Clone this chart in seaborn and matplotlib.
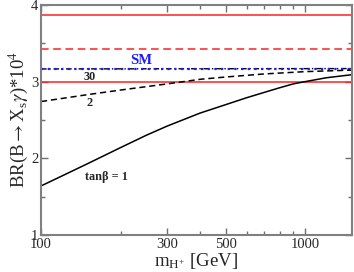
import numpy as np
import pandas as pd
import seaborn as sns
import matplotlib.pyplot as plt
from matplotlib.ticker import FixedLocator, NullFormatter

# charged Higgs mass [GeV]
mass_tb1 = [100, 120, 150, 200, 250, 300, 400, 500, 600, 700, 800, 900, 1000, 1200, 1500]
br_tb1 = [1.64, 1.77, 1.93, 2.14, 2.30, 2.42, 2.59, 2.70, 2.79, 2.86, 2.92, 2.97, 3.00, 3.05, 3.09]

mass_tb2 = [100, 150, 200, 300, 400, 500, 700, 1000, 1500]
br_tb2 = [2.74, 2.83, 2.89, 2.97, 3.03, 3.06, 3.10, 3.13, 3.15]

mass_tb30 = [100, 1500]
br_tb30 = [3.165, 3.17]

# SM value and experimental band
sm_value = 3.17
exp_central = 3.43
exp_upper = 3.87
exp_lower = 3.0

sns.set_style("ticks")
plt.rcParams["font.family"] = ["Liberation Serif", "DejaVu Serif"]
plt.rcParams["mathtext.fontset"] = "stix"

fig = plt.figure(figsize=(3.54, 2.72), dpi=100)
ax = fig.add_axes([0.116, 0.136, 0.878, 0.846])

df1 = pd.DataFrame({"m": mass_tb1, "br": br_tb1})
df2 = pd.DataFrame({"m": mass_tb2, "br": br_tb2})
df30 = pd.DataFrame({"m": mass_tb30, "br": br_tb30})

ax.axhline(exp_upper, color="#ff2020", lw=1.1)
ax.axhline(exp_central, color="#ff2020", lw=1.1, ls=(0, (5, 3)))
ax.axhline(exp_lower, color="#ff2020", lw=1.1)

sns.lineplot(data=df30, x="m", y="br", ax=ax, color="black", lw=1.0,
             linestyle=(0, (4, 2, 1, 2)))
ax.axhline(sm_value, color="#1a1aff", lw=1.6, ls=(0, (1, 2)))
sns.lineplot(data=df2, x="m", y="br", ax=ax, color="black", lw=1.1,
             linestyle=(0, (4, 2.5)))
sns.lineplot(data=df1, x="m", y="br", ax=ax, color="black", lw=1.1)

ax.set_xscale("log")
ax.set_xlim(100, 1500)
ax.set_ylim(1, 4)

ax.xaxis.set_major_locator(FixedLocator([100, 300, 500, 1000]))
ax.xaxis.set_minor_locator(FixedLocator([200, 400, 600, 700, 800, 900]))
ax.xaxis.set_minor_formatter(NullFormatter())
ax.set_xticklabels(["100", "300", "500", "1000"])
ax.yaxis.set_major_locator(FixedLocator([1, 2, 3, 4]))
ax.yaxis.set_minor_locator(FixedLocator([1.5, 2.5, 3.5]))
ax.set_yticklabels(["1", "2", "3", "4"])

ax.tick_params(which="both", direction="in", top=True, right=True,
               labelsize=10.5, color="#707070", pad=2)
ax.tick_params(which="major", length=5, width=1.0)
ax.tick_params(which="minor", length=3, width=1.0)
for s in ax.spines.values():
    s.set_color("#808080")
    s.set_linewidth(1.5)

ax.text(240, 3.28, "SM", color="#1a1aff", fontsize=10.5, fontweight="bold",
        ha="center", va="center")
ax.text(153, 3.06, "30", fontsize=8.8, fontweight="bold", ha="center", va="center")
ax.text(153, 2.72, "2", fontsize=8.8, fontweight="bold", ha="center", va="center")
ax.text(176, 1.76, "tanβ = 1", fontsize=8.8, fontweight="bold", ha="center", va="center")

ax.set_xlabel(r"m$_{\mathregular{H^{+}}}$ [GeV]", fontsize=13.5, labelpad=0)
ax.set_ylabel(r"BR(B$\rightarrow$X$_{\mathregular{s}}\gamma$)*10$^{4}$", fontsize=13.5, labelpad=1)

fig.savefig("out.png", dpi=100)
